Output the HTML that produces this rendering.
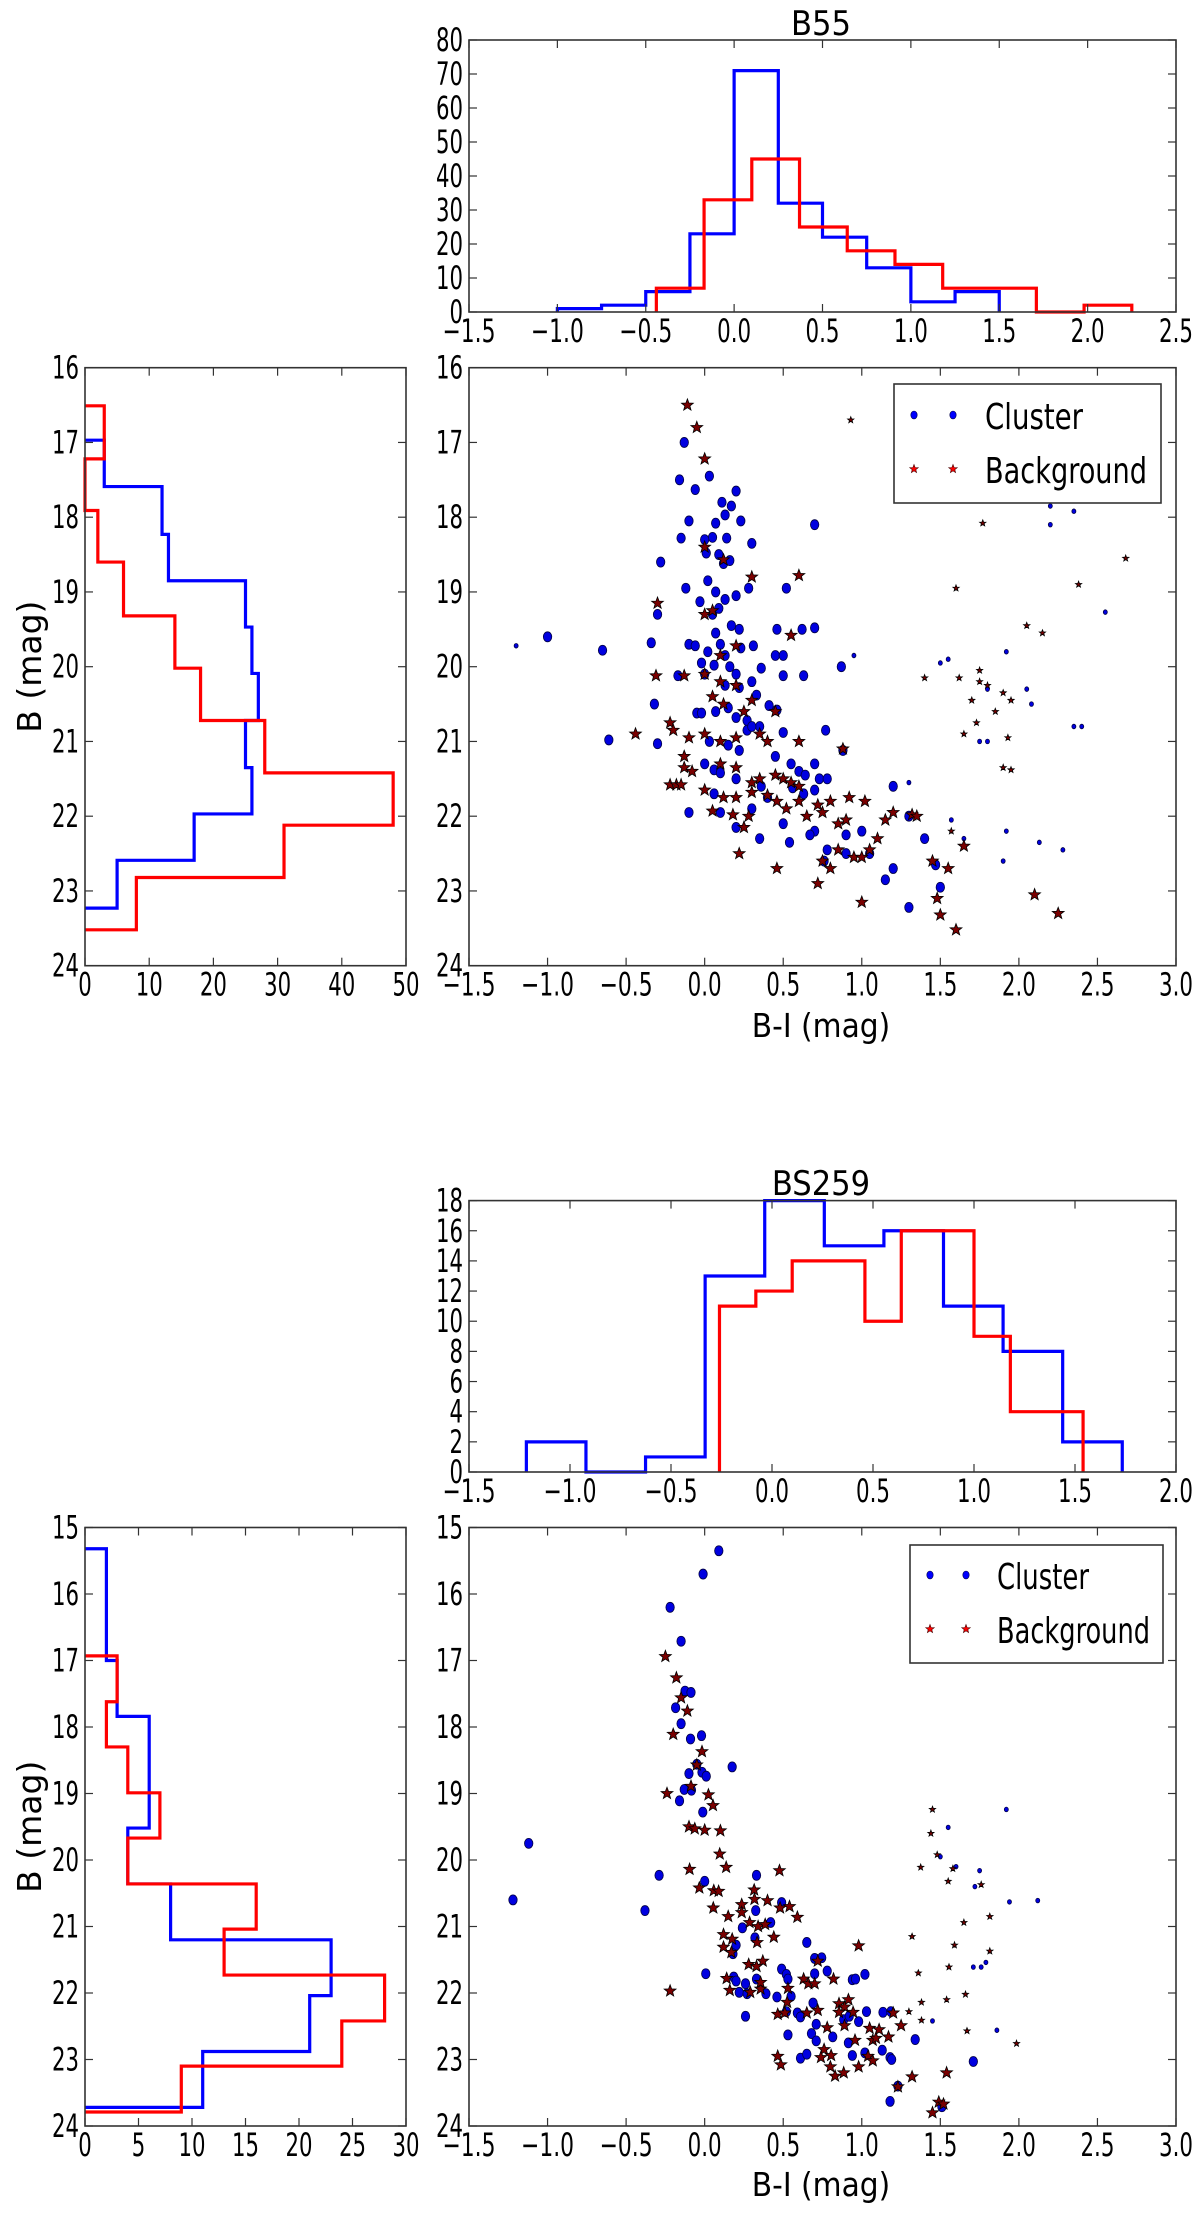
<!DOCTYPE html>
<html><head><meta charset="utf-8"><style>
html,body{margin:0;padding:0;background:#fff;}
svg{display:block;}
text{font-family:"DejaVu Sans Condensed","DejaVu Sans","Liberation Sans",sans-serif;font-stretch:condensed;fill:#000;}
.tk{font-size:32px;}
.ylab{font-family:"DejaVu Sans","Liberation Sans",sans-serif;font-stretch:normal;font-size:33px;}
</style></head><body>
<svg id="fig" width="1200" height="2217" viewBox="0 0 1200 2217" xmlns="http://www.w3.org/2000/svg"></svg>
<script>
// ===== Panel 1 (B55) data =====
const p1TopBlueEdges=[-1.0,-0.75,-0.5,-0.25,0.0,0.25,0.5,0.75,1.0,1.25,1.5];
const p1TopBlueCounts=[1,2,6,23,71,32,22,13,3,6];
const p1TopRedEdges=[-0.44,-0.17,0.10,0.37,0.64,0.91,1.18,1.45,1.71,1.98,2.25];
const p1TopRedCounts=[7,33,45,25,18,14,7,7,0,2];
const p1LeftBlueEdges=[16.97,17.59,18.23,18.85,19.47,20.09,20.72,21.35,21.97,22.59,23.23];
const p1LeftBlueCounts=[3,12,13,25,26,27,25,26,17,5];
const p1LeftRedEdges=[16.51,17.22,17.91,18.60,19.32,20.02,20.72,21.42,22.12,22.82,23.52];
const p1LeftRedCounts=[3,0,2,6,14,18,28,48,31,8];
const p1TopXTicks=[-1.5,-1.0,-0.5,0.0,0.5,1.0,1.5,2.0,2.5];
const p1TopYTicks=[0,10,20,30,40,50,60,70,80];
const p1LeftXTicks=[0,10,20,30,40,50];
const p1MagTicks=[16,17,18,19,20,21,22,23,24];
const p1ColorTicks=[-1.5,-1.0,-0.5,0.0,0.5,1.0,1.5,2.0,2.5,3.0];
const p1ClusterBI=[-0.13,-0.16,-0.06,0.03,0.2,0.11,0.17,0.13,0.07,-0.1,-0.15,0.23,0.05,0.0,0.14,0.3,0.7,-0.28,0.01,0.09,0.12,0.16,0.28,0.52,-0.12,0.02,0.07,0.2,-0.03,0.13,-0.3,0.05,0.09,0.17,0.22,0.46,0.62,0.7,0.07,-0.1,-0.06,0.1,0.23,-0.34,-1.0,-0.65,0.02,0.13,0.31,0.45,0.5,0.87,-0.02,0.06,0.16,0.36,0.2,0.0,-0.17,0.3,0.5,0.63,0.13,0.22,0.33,-0.32,0.41,0.46,0.07,0.15,-0.05,-0.02,0.2,0.27,0.35,0.5,0.77,-0.3,-0.61,0.03,0.15,0.22,0.27,0.3,0.45,0.55,0.6,0.64,0.7,0.73,0.88,0.0,0.06,0.1,0.2,0.36,0.56,0.63,0.7,0.78,0.06,0.1,-0.1,0.4,0.3,0.35,0.5,0.7,0.78,0.9,1.0,1.2,1.3,1.4,0.9,1.05,1.2,1.15,1.3,1.5,1.47,0.54,0.67,0.76,0.2];
const p1ClusterB=[17.0,17.5,17.63,17.45,17.65,17.8,17.85,17.97,18.08,18.05,18.28,18.05,18.27,18.3,18.28,18.35,18.1,18.6,18.48,18.5,18.62,18.58,18.95,18.95,18.95,18.85,19.0,19.05,19.13,19.1,19.3,19.3,19.22,19.45,19.5,19.5,19.5,19.48,19.55,19.7,19.72,19.7,19.75,19.68,19.6,19.78,19.8,19.85,19.72,19.85,19.85,20.0,19.95,19.98,20.0,20.02,20.1,20.1,20.12,20.2,20.12,20.12,20.25,20.28,20.38,20.5,20.52,20.58,20.6,20.55,20.62,20.62,20.68,20.72,20.8,20.88,20.85,21.03,20.98,21.0,21.05,21.12,20.85,20.8,21.2,21.3,21.4,21.45,21.3,21.5,21.12,21.3,21.38,21.42,21.5,21.6,21.62,21.7,21.65,21.5,21.7,21.95,21.95,21.75,21.9,22.3,22.1,22.2,22.45,22.25,22.2,21.6,22.0,22.3,22.5,22.5,22.7,22.85,23.22,22.95,22.65,22.35,22.25,22.6,22.15];
const p1BackBI=[-0.11,-0.05,0.0,0.0,0.12,0.3,0.6,-0.3,0.0,0.05,0.55,0.2,0.1,-0.31,0.0,-0.13,0.1,0.2,0.05,0.12,0.25,0.3,0.45,-0.22,-0.44,-0.2,-0.1,0.0,0.1,0.2,0.35,0.4,0.6,0.88,-0.13,-0.13,-0.08,0.1,0.2,0.3,0.35,0.45,0.5,0.55,0.6,-0.22,-0.18,-0.15,0.0,0.12,0.2,0.3,0.4,0.46,0.52,0.6,0.72,0.8,0.92,1.02,0.05,0.18,0.25,0.22,0.46,0.72,0.75,0.85,0.95,1.05,1.1,1.15,1.2,1.32,1.35,1.0,1.45,1.48,1.5,1.6,1.65,1.55,2.1,2.25,0.85,0.9,0.65,0.75,0.8,1.0,0.28];
const p1BackB=[16.5,16.8,17.22,18.4,18.57,18.8,18.78,19.15,19.3,19.25,19.58,19.72,19.85,20.12,20.1,20.12,20.2,20.25,20.4,20.5,20.6,20.45,20.6,20.75,20.9,20.85,20.95,20.9,21.0,20.95,20.9,21.0,21.0,21.1,21.2,21.35,21.4,21.3,21.35,21.55,21.5,21.45,21.5,21.55,21.6,21.58,21.58,21.58,21.65,21.75,21.75,21.68,21.72,21.8,21.9,21.8,21.85,21.8,21.75,21.8,21.93,21.98,22.15,22.5,22.7,22.9,22.6,22.45,22.55,22.45,22.3,22.05,21.95,21.98,22.0,23.15,22.6,23.1,23.32,23.52,22.4,22.7,23.05,23.3,22.1,22.05,22.0,21.95,22.7,22.55,22.0];
const p1SmallBlueBI=[-1.2,0.95,1.3,1.5,1.55,1.8,2.05,2.08,1.92,2.2,2.2,2.35,2.55,2.35,2.4,1.8,1.75,2.13,2.28,1.9,1.65,1.57,1.92];
const p1SmallBlueB=[19.72,19.85,21.55,19.95,19.9,20.3,20.3,20.5,19.8,17.85,18.1,17.92,19.27,20.8,20.8,21.0,21.0,22.35,22.45,22.6,22.3,22.05,22.2];
const p1SmallRedBI=[0.93,1.77,1.6,2.38,2.68,2.15,2.05,1.4,1.62,1.75,1.75,1.8,1.9,1.95,1.85,1.73,1.7,1.93,1.9,1.95,1.65,1.57];
const p1SmallRedB=[16.7,18.08,18.95,18.9,18.55,19.55,19.45,20.15,20.15,20.05,20.2,20.25,20.35,20.45,20.6,20.75,20.45,20.95,21.35,21.38,20.9,22.2];

// ===== Panel 2 (BS259) data =====
const p2TopBlueEdges=[-1.216,-0.921,-0.626,-0.331,-0.036,0.259,0.554,0.849,1.144,1.439,1.734];
const p2TopBlueCounts=[2,0,1,13,18,15,16,11,8,2];
const p2TopRedEdges=[-0.26,-0.08,0.10,0.28,0.46,0.64,0.82,1.00,1.18,1.36,1.54];
const p2TopRedCounts=[11,12,14,14,10,16,16,9,4,4];
const p2LeftBlueEdges=[15.32,16.16,17.0,17.84,18.68,19.52,20.36,21.2,22.04,22.88,23.72];
const p2LeftBlueCounts=[2,2,3,6,6,4,8,23,21,11];
const p2LeftRedEdges=[16.93,17.62,18.30,18.99,19.67,20.36,21.04,21.73,22.42,23.10,23.79];
const p2LeftRedCounts=[3,2,4,7,4,16,13,28,24,9];
const p2TopXTicks=[-1.5,-1.0,-0.5,0.0,0.5,1.0,1.5,2.0];
const p2TopYTicks=[0,2,4,6,8,10,12,14,16,18];
const p2LeftXTicks=[0,5,10,15,20,25,30];
const p2MagTicks=[15,16,17,18,19,20,21,22,23,24];
const p2ColorTicks=[-1.5,-1.0,-0.5,0.0,0.5,1.0,1.5,2.0,2.5,3.0];
const p2ClusterBI=[0.09,-0.01,-0.22,-0.15,-0.125,-0.087,-0.185,-0.15,-0.09,-0.02,0.175,-0.05,-0.1,-0.017,0.01,-0.13,-0.084,-0.16,-0.012,-0.29,-0.38,0.0,0.33,0.49,0.325,0.42,0.24,0.32,0.2,0.18,0.007,0.185,0.2,0.26,0.33,0.22,0.27,0.39,0.26,0.65,0.7,0.745,0.78,0.7,0.49,0.52,0.53,0.55,0.46,0.52,0.59,0.61,0.69,0.71,0.68,0.71,0.53,0.815,0.61,0.65,0.94,0.96,1.02,0.885,0.92,0.98,1.03,0.915,0.94,1.02,1.135,1.185,1.13,1.18,1.19,1.34,1.23,1.18,1.51,1.71,-1.22,-1.12];
const p2ClusterB=[15.35,15.7,16.2,16.71,17.46,17.48,17.71,17.95,18.18,18.13,18.6,18.56,18.7,18.68,18.74,18.94,18.95,19.11,19.28,20.23,20.76,20.32,20.23,20.64,20.76,20.94,21.02,21.17,21.28,21.41,21.71,21.76,21.82,21.86,21.79,21.99,22.01,22.01,22.35,21.24,21.48,21.47,21.67,21.71,21.64,21.72,21.79,22.05,22.06,22.28,22.3,22.36,22.15,22.47,22.61,22.72,22.63,22.66,22.98,22.92,21.8,21.79,21.72,22.4,22.35,22.43,22.28,22.75,22.94,22.9,22.29,22.28,22.86,22.97,23.0,22.7,23.4,23.63,23.71,23.03,20.6,19.75];
const p2BackBI=[-0.25,-0.18,-0.15,-0.11,-0.2,-0.017,-0.05,-0.087,-0.24,0.024,0.053,-0.1,-0.063,0.0,0.1,0.096,-0.096,0.137,0.476,-0.034,0.058,0.089,0.315,0.317,0.4,0.236,0.236,0.055,0.48,0.54,0.59,0.15,0.286,0.34,0.385,0.44,0.12,0.175,0.12,0.17,0.334,0.37,0.28,0.33,0.14,0.16,0.29,0.356,0.356,-0.22,0.53,0.72,0.63,0.66,0.7,0.82,0.525,0.72,0.65,0.465,0.51,0.78,0.98,0.855,0.915,0.89,0.855,0.89,0.945,0.957,1.05,1.07,1.11,1.09,1.17,1.2,1.25,0.76,0.74,0.805,0.8,0.83,0.885,0.98,1.04,1.07,0.465,0.485,1.23,1.32,1.54,1.45,1.49,1.52];
const p2BackB=[16.94,17.26,17.56,17.76,18.11,18.37,18.57,18.89,19.0,19.02,19.18,19.5,19.53,19.55,19.56,19.91,20.14,20.11,20.16,20.42,20.46,20.47,20.45,20.59,20.61,20.67,20.79,20.72,20.72,20.7,20.86,20.85,20.94,21.0,20.97,21.16,21.12,21.19,21.31,21.39,21.24,21.52,21.57,21.6,21.78,21.96,21.99,21.94,21.84,21.97,21.93,21.52,21.79,21.86,21.86,21.79,22.14,22.26,22.3,22.32,22.3,22.52,21.29,22.16,22.1,22.21,22.29,22.49,22.29,22.71,22.53,22.71,22.55,22.68,22.66,22.3,22.49,22.85,22.97,22.94,23.11,23.25,23.2,23.11,22.95,23.02,22.95,23.08,23.41,23.26,23.2,23.8,23.64,23.67];
const p2SmallBlueBI=[1.92,1.55,1.5,1.6,1.75,1.72,1.94,2.12,1.71,1.76,1.79,1.45,1.86];
const p2SmallBlueB=[19.24,19.51,19.95,20.1,20.16,20.4,20.63,20.61,21.61,21.61,21.54,22.42,22.56];
const p2SmallRedBI=[1.45,1.44,1.48,1.375,1.58,1.55,1.76,1.65,1.815,1.32,1.59,1.815,1.36,1.555,1.66,1.38,1.54,1.3,1.38,1.67,1.985];
const p2SmallRedB=[19.24,19.6,19.92,20.11,20.13,20.32,20.37,20.94,20.85,21.15,21.28,21.37,21.7,21.61,22.02,22.14,22.1,22.28,22.41,22.57,22.76];

const NS='http://www.w3.org/2000/svg';
const fig=document.getElementById('fig');
function mk(tag,attrs,parent){const e=document.createElementNS(NS,tag);for(const k in attrs)e.setAttribute(k,attrs[k]);(parent||fig).appendChild(e);return e;}
function lin(d0,d1,p0,p1){return v=>p0+(v-d0)*(p1-p0)/(d1-d0);}
function fmt(v,dec){let s=v.toFixed(dec);return s.replace('-','\u2212');}
function tlen(s){let w=0;for(const c of s){w+= c==='.'?7:(c==='\u2212'?19:13.5);}return w;}

function axesFrame(g,L,T,R,B,name){
  const r=mk('rect',{x:L,y:T,width:R-L,height:B-T,fill:'none',stroke:'#333',"stroke-width":1.6},g);
  
  
}
function xTicks(g,ticks,sx,T,B,dec,name){
  const tg=mk('g',{},g);
  
  
  ticks.forEach(t=>{const x=sx(t);
    mk('line',{x1:x,y1:B,x2:x,y2:B-8,stroke:'#333',"stroke-width":1.2},tg);
    mk('line',{x1:x,y1:T,x2:x,y2:T+8,stroke:'#333',"stroke-width":1.2},tg);
    const s=fmt(t,dec);
    const tx=mk('text',{x:x,y:B+30,"text-anchor":"middle",class:"tk",textLength:tlen(s),lengthAdjust:"spacingAndGlyphs"},tg);tx.textContent=s;
    
    
  });
}
function yTicks(g,ticks,sy,L,R,dec,name){
  const tg=mk('g',{},g);
  
  
  ticks.forEach(t=>{const y=sy(t);
    mk('line',{x1:L,y1:y,x2:L+8,y2:y,stroke:'#333',"stroke-width":1.2},tg);
    mk('line',{x1:R,y1:y,x2:R-8,y2:y,stroke:'#333',"stroke-width":1.2},tg);
    const s=fmt(t,dec);
    const tx=mk('text',{x:L-6,y:y+11,"text-anchor":"end",class:"tk",textLength:tlen(s),lengthAdjust:"spacingAndGlyphs"},tg);tx.textContent=s;
    
    
  });
}
function stepV(g,edges,counts,sx,sy,color,name){
  let d='M'+sx(edges[0])+','+sy(0);
  counts.forEach((c,i)=>{d+=' L'+sx(edges[i])+','+sy(c)+' L'+sx(edges[i+1])+','+sy(c);});
  d+=' L'+sx(edges[edges.length-1])+','+sy(0);
  const p=mk('path',{d:d,fill:'none',stroke:color,"stroke-width":3.2},g);
  
  
}
function stepH(g,edges,counts,sx,sy,color,name){
  let d='M'+sx(0)+','+sy(edges[0]);
  counts.forEach((c,i)=>{d+=' L'+sx(c)+','+sy(edges[i])+' L'+sx(c)+','+sy(edges[i+1]);});
  d+=' L'+sx(0)+','+sy(edges[edges.length-1]);
  const p=mk('path',{d:d,fill:'none',stroke:color,"stroke-width":3.2},g);
  
  
}
function starPath(cx,cy,r){let d='';for(let i=0;i<10;i++){const a=-Math.PI/2+i*Math.PI/5;const rr=i%2?r*0.42:r;d+=(i?'L':'M')+(cx+rr*Math.cos(a)).toFixed(1)+','+(cy+rr*Math.sin(a)).toFixed(1);}return d+'Z';}
function dots(g,xs,ys,sx,sy,rx,ry,name){
  xs.forEach((v,i)=>{const e=mk('ellipse',{cx:sx(v),cy:sy(ys[i]),rx:rx,ry:ry,fill:'#0000e0',stroke:'#000044',"stroke-width":0.8},g);
    
    });
}
function stars(g,xs,ys,sx,sy,r,name){
  xs.forEach((v,i)=>{const e=mk('path',{d:starPath(sx(v),sy(ys[i]),r),fill:'#7a0000',stroke:'#000',"stroke-width":0.8},g);
    
    });
}
function txt(g,x,y,s,attrs,name){const t=mk('text',Object.assign({x:x,y:y},attrs),g);t.textContent=s;
  
  return t;}

function panel(cfg){
  const g=mk('g',{});
  
  
  const th=mk('g',{},g);
  
  
  const tL=469,tR=1176,tT=cfg.topT,tB=cfg.topB;
  const tsx=lin(cfg.topX[0],cfg.topX[1],tL,tR), tsy=lin(0,cfg.topYmax,tB,tT);
  stepV(th,cfg.tbE,cfg.tbC,tsx,tsy,'#0000ff','cluster-color-hist');
  stepV(th,cfg.trE,cfg.trC,tsx,tsy,'#ff0000','background-color-hist');
  axesFrame(th,tL,tT,tR,tB,'color-histogram');
  xTicks(th,cfg.topXT,tsx,tT,tB,1,'color-histogram');
  yTicks(th,cfg.topYT,tsy,tL,tR,0,'color-histogram');
  txt(g,821,cfg.titleY,cfg.title,{"text-anchor":"middle","font-size":"34"},'panel-title');
  const cT=cfg.cT,cB=cfg.cB;
  const msy=lin(cfg.mag[0],cfg.mag[1],cT,cB);
  const lh=mk('g',{},g);
  
  
  const lL=85,lR=406;
  const lsx=lin(0,cfg.leftXmax,lL,lR);
  stepH(lh,cfg.lbE,cfg.lbC,lsx,msy,'#0000ff','cluster-mag-hist');
  stepH(lh,cfg.lrE,cfg.lrC,lsx,msy,'#ff0000','background-mag-hist');
  axesFrame(lh,lL,cT,lR,cB,'magnitude-histogram');
  xTicks(lh,cfg.leftXT,lsx,cT,cB,0,'magnitude-histogram');
  yTicks(lh,cfg.magT,msy,lL,lR,0,'magnitude-histogram');
  txt(g,0,0,'B (mag)',{class:"ylab","text-anchor":"middle",transform:'translate(41,'+((cT+cB)/2)+') rotate(-90)'},'y-axis-title');
  const cm=mk('g',{},g);
  
  
  const csx=lin(-1.5,3.0,469,1176);
  dots(cm,cfg.sbX,cfg.sbY,csx,msy,2,2.3,'cluster-small-point');
  stars(cm,cfg.srX,cfg.srY,csx,msy,3.3,'background-small-star');
  dots(cm,cfg.cX,cfg.cY,csx,msy,4.2,5,'cluster-point');
  stars(cm,cfg.bX,cfg.bY,csx,msy,6.2,'background-star');
  axesFrame(cm,469,cT,1176,cB,'cmd');
  xTicks(cm,cfg.colT,csx,cT,cB,1,'cmd');
  yTicks(cm,cfg.magT,msy,469,1176,0,'cmd');
  txt(g,821,cfg.xlabY,'B-I (mag)',{"text-anchor":"middle","font-size":"33"},'x-axis-title');
  const lg=mk('g',{},g);
  
  
  const L=cfg.leg;
  const box=mk('rect',{x:L.x0,y:L.y0,width:L.x1-L.x0,height:L.y1-L.y0,fill:'#fff',stroke:'#333',"stroke-width":1.6},lg);
  
  
  const e1=mk('g',{},lg);
  
  
  L.mx.forEach(x=>mk('ellipse',{cx:x,cy:L.r1,rx:3.2,ry:4,fill:'#0000ff',stroke:'#000044',"stroke-width":0.6},e1));
  txt(e1,L.tx,L.r1+14,'Cluster',{"font-size":"36",textLength:L.w1,lengthAdjust:"spacingAndGlyphs"},'legend-label-cluster');
  const e2=mk('g',{},lg);
  
  
  L.mx.forEach(x=>mk('path',{d:starPath(x,L.r2,4.5),fill:'#ff0000',stroke:'#400',"stroke-width":0.6},e2));
  txt(e2,L.tx,L.r2+14,'Background',{"font-size":"36",textLength:L.w2,lengthAdjust:"spacingAndGlyphs"},'legend-label-background');
}

panel({name:'b55',title:'B55',titleY:35,topT:40,topB:312,topX:[-1.5,2.5],topYmax:80,
  tbE:p1TopBlueEdges,tbC:p1TopBlueCounts,trE:p1TopRedEdges,trC:p1TopRedCounts,topXT:p1TopXTicks,topYT:p1TopYTicks,
  cT:367.7,cB:965.7,mag:[16,24],leftXmax:50,lbE:p1LeftBlueEdges,lbC:p1LeftBlueCounts,lrE:p1LeftRedEdges,lrC:p1LeftRedCounts,
  leftXT:p1LeftXTicks,magT:p1MagTicks,colT:p1ColorTicks,
  cX:p1ClusterBI,cY:p1ClusterB,bX:p1BackBI,bY:p1BackB,sbX:p1SmallBlueBI,sbY:p1SmallBlueB,srX:p1SmallRedBI,srY:p1SmallRedB,
  xlabY:1037,leg:{x0:894,y0:384,x1:1161,y1:503,mx:[914,953],r1:415,r2:469,tx:985,w1:98,w2:162}});
panel({name:'bs259',title:'BS259',titleY:1195,topT:1200.6,topB:1472,topX:[-1.5,2.0],topYmax:18,
  tbE:p2TopBlueEdges,tbC:p2TopBlueCounts,trE:p2TopRedEdges,trC:p2TopRedCounts,topXT:p2TopXTicks,topYT:p2TopYTicks,
  cT:1527.5,cB:2126,mag:[15,24],leftXmax:30,lbE:p2LeftBlueEdges,lbC:p2LeftBlueCounts,lrE:p2LeftRedEdges,lrC:p2LeftRedCounts,
  leftXT:p2LeftXTicks,magT:p2MagTicks,colT:p2ColorTicks,
  cX:p2ClusterBI,cY:p2ClusterB,bX:p2BackBI,bY:p2BackB,sbX:p2SmallBlueBI,sbY:p2SmallBlueB,srX:p2SmallRedBI,srY:p2SmallRedB,
  xlabY:2196,leg:{x0:910,y0:1545,x1:1163,y1:1663,mx:[930,966],r1:1575,r2:1629,tx:997,w1:92,w2:153}});
</script>
</body></html>
